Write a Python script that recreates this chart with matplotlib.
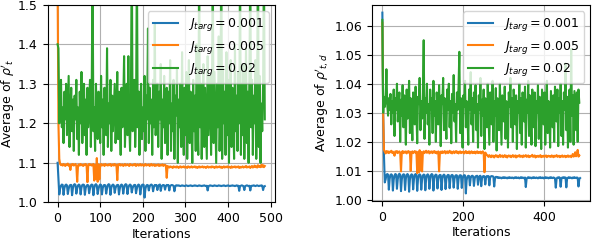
import numpy as np
import matplotlib
matplotlib.use("Agg")
import matplotlib.pyplot as plt

plt.rcParams['font.family'] = ['DejaVu Sans']
plt.rcParams['font.size'] = 9
plt.rcParams['mathtext.fontset'] = 'dejavusans'

STEP = 2  # iterations between stored samples

labels = [r"$J_{targ} = 0.001$", r"$J_{targ} = 0.005$", r"$J_{targ} = 0.02$"]

# ---------------- left panel: average of rho'_t ----------------
blue_left = [
    1.100, 1.060, 1.020,
    1.035, 1.042, 1.045, 1.044, 1.019, 1.036, 1.043, 1.045, 1.043, 1.021,
    1.034, 1.042, 1.044, 1.044, 1.018, 1.036, 1.044, 1.046, 1.044, 1.022,
    1.035, 1.043, 1.045, 1.043, 1.020, 1.037, 1.044, 1.045, 1.044, 1.019,
    1.036, 1.042, 1.044, 1.043, 1.023, 1.035, 1.043, 1.045, 1.044, 1.018,
    1.036, 1.044, 1.046, 1.043, 1.021, 1.034, 1.042, 1.045, 1.044, 1.020,
    1.036, 1.043, 1.044, 1.043, 1.022, 1.035, 1.044, 1.046, 1.044, 1.019,
    1.037, 1.043, 1.045, 1.043, 1.024, 1.036, 1.042, 1.044, 1.044, 1.020,
    1.035, 1.043, 1.045, 1.043, 1.022, 1.036, 1.044, 1.046, 1.044, 1.021,
    1.037, 1.043, 1.045, 1.043, 1.025, 1.036, 1.042, 1.044, 1.044, 1.023,
    1.035, 1.043, 1.045, 1.043, 1.020, 1.036, 1.044, 1.045, 1.044, 1.012,
    1.034, 1.042, 1.044, 1.043, 1.030, 1.040, 1.044, 1.045, 1.043, 1.028,
    1.039, 1.044, 1.043, 1.044, 1.031, 1.041, 1.044, 1.045, 1.029,
    1.040, 1.043, 1.044, 1.043, 1.032, 1.041, 1.044, 1.043, 1.044, 1.030,
    1.041, 1.043, 1.044, 1.043, 1.042, 1.028, 1.040, 1.043, 1.043,
    1.042, 1.043, 1.042, 1.041, 1.042, 1.043, 1.042, 1.042, 1.041, 1.042,
    1.043, 1.042, 1.041, 1.042, 1.042, 1.043, 1.042, 1.041, 1.042, 1.042,
    1.043, 1.042, 1.042, 1.041, 1.042, 1.043, 1.042, 1.042, 1.041, 1.042,
    1.042, 1.043, 1.042, 1.041, 1.042, 1.030, 1.041, 1.042, 1.043, 1.042,
    1.042, 1.041, 1.042, 1.043, 1.042, 1.042, 1.041, 1.042, 1.043, 1.042,
    1.042, 1.041, 1.042, 1.042, 1.043, 1.042, 1.041, 1.042, 1.042, 1.043,
    1.042, 1.041, 1.042, 1.042, 1.043, 1.042, 1.042, 1.041, 1.042, 1.043,
    1.042, 1.042, 1.029, 1.041, 1.042, 1.043, 1.042, 1.041, 1.031, 1.041,
    1.042, 1.043, 1.042, 1.041, 1.042, 1.030, 1.041, 1.042, 1.042, 1.043,
    1.042, 1.041, 1.042, 1.043, 1.042, 1.041, 1.042, 1.042, 1.043, 1.042,
    1.031, 1.040, 1.041,
]

orange_left = [
    1.550, 1.200, 1.110, 1.097, 1.094, 1.096, 1.093, 1.097, 1.095, 1.092,
    1.096, 1.094, 1.098, 1.093, 1.095, 1.082, 1.096, 1.094, 1.097, 1.093,
    1.095, 1.097, 1.092, 1.052, 1.094, 1.096, 1.093, 1.097, 1.094, 1.095,
    1.092, 1.096, 1.094, 1.097, 1.093, 1.051, 1.095, 1.097, 1.094, 1.096,
    1.093, 1.095, 1.097, 1.055, 1.094, 1.060, 1.112, 1.052, 1.096, 1.058,
    1.094, 1.097, 1.093, 1.095, 1.096, 1.092, 1.097, 1.094, 1.095, 1.093,
    1.096, 1.094, 1.097, 1.092, 1.095, 1.096, 1.093, 1.097, 1.094, 1.095,
    1.056, 1.096, 1.094, 1.097, 1.093, 1.095, 1.096, 1.092, 1.094, 1.097,
    1.093, 1.095, 1.096, 1.094, 1.092, 1.097, 1.094, 1.095, 1.093, 1.096,
    1.094, 1.097, 1.092, 1.095, 1.096, 1.093, 1.094, 1.097, 1.093, 1.095,
    1.096, 1.092, 1.094, 1.097, 1.093, 1.095, 1.094, 1.096, 1.092, 1.095,
    1.097, 1.093, 1.094, 1.096, 1.092, 1.095, 1.093, 1.094, 1.096, 1.092,
    1.095, 1.093, 1.094, 1.096, 1.092, 1.094, 1.095, 1.093, 1.062, 1.092,
    1.090, 1.088, 1.091, 1.089, 1.090, 1.087, 1.091, 1.089, 1.090, 1.088,
    1.091, 1.089, 1.087, 1.090, 1.091, 1.088, 1.090, 1.089, 1.091, 1.088,
    1.090, 1.089, 1.087, 1.091, 1.090, 1.088, 1.089, 1.091, 1.088, 1.090,
    1.089, 1.091, 1.088, 1.090, 1.087, 1.089, 1.091, 1.088, 1.090, 1.089,
    1.091, 1.088, 1.090, 1.089, 1.087, 1.090, 1.091, 1.088, 1.089, 1.090,
    1.088, 1.091, 1.089, 1.090, 1.087, 1.089, 1.091, 1.088, 1.090, 1.089,
    1.091, 1.088, 1.090, 1.087, 1.089, 1.091, 1.088, 1.090, 1.089, 1.091,
    1.088, 1.090, 1.089, 1.087, 1.091, 1.088, 1.090, 1.089, 1.091, 1.088,
    1.090, 1.089, 1.091, 1.087, 1.090, 1.088, 1.089, 1.091, 1.088, 1.090,
    1.089, 1.092, 1.088, 1.090, 1.089, 1.091, 1.087, 1.090, 1.092, 1.088,
    1.090, 1.093, 1.089, 1.091, 1.088, 1.094, 1.090, 1.092, 1.089, 1.095,
    1.090, 1.094, 1.089, 1.092,
]

green_left = [
    1.400, 1.390, 1.200, 1.260, 1.310, 1.190, 1.240, 1.150, 1.280, 1.210,
    1.300, 1.170, 1.250, 1.320, 1.140, 1.230, 1.290, 1.180, 1.260, 1.130,
    1.270, 1.210, 1.310, 1.160, 1.240, 1.120, 1.280, 1.200, 1.330, 1.150,
    1.220, 1.300, 1.170, 1.260, 1.120, 1.290, 1.190, 1.250, 1.310, 1.140,
    1.270, 1.600, 1.180, 1.240, 1.130, 1.300, 1.210, 1.160, 1.280, 1.230,
    1.150, 1.320, 1.190, 1.260, 1.120, 1.290, 1.220, 1.170, 1.390, 1.140,
    1.250, 1.200, 1.310, 1.130, 1.270, 1.180, 1.240, 1.300, 1.150, 1.220,
    1.330, 1.160, 1.280, 1.210, 1.120, 1.290, 1.190, 1.250, 1.370, 1.140,
    1.230, 1.300, 1.170, 1.370, 1.200, 1.130, 1.270, 1.650, 1.180, 1.250,
    1.310, 1.140, 1.220, 1.620, 1.190, 1.280, 1.120, 1.260, 1.300, 1.160,
    1.240, 1.180, 1.320, 1.130, 1.270, 1.210, 1.440, 1.150, 1.290, 1.200,
    1.260, 1.120, 1.310, 1.190, 1.450, 1.170, 1.230, 1.300, 1.140, 1.280,
    1.210, 1.350, 1.110, 1.260, 1.190, 1.320, 1.150, 1.240, 1.290, 1.120,
    1.280, 1.200, 1.360, 1.130, 1.250, 1.180, 1.310, 1.110, 1.270, 1.220,
    1.340, 1.100, 1.260, 1.190, 1.300, 1.140, 1.380, 1.210, 1.120, 1.290,
    1.170, 1.330, 1.110, 1.250, 1.360, 1.150, 1.280, 1.200, 1.100, 1.310,
    1.180, 1.270, 1.130, 1.400, 1.220, 1.120, 1.620, 1.190, 1.300, 1.110,
    1.260, 1.350, 1.140, 1.290, 1.200, 1.110, 1.370, 1.170, 1.250, 1.320,
    1.120, 1.280, 1.600, 1.150, 1.330, 1.210, 1.100, 1.300, 1.190, 1.420,
    1.130, 1.260, 1.650, 1.110, 1.340, 1.200, 1.280, 1.120, 1.380, 1.170,
    1.310, 1.100, 1.250, 1.360, 1.140, 1.290, 1.210, 1.110, 1.400, 1.180,
    1.270, 1.130, 1.330, 1.200, 1.620, 1.120, 1.300, 1.170, 1.350, 1.110,
    1.260, 1.390, 1.150, 1.280, 1.100, 1.340, 1.600, 1.190, 1.310, 1.120,
    1.270, 1.200, 1.360, 1.110, 1.290, 1.650, 1.140, 1.320, 1.100, 1.250,
    1.180, 1.300, 1.620, 1.210,
]

# ---------------- right panel: average of rho'_{t,d} ----------------
blue_right = [
    1.0645, 1.0300, 1.0150, 1.0060,
    1.0070, 1.0085, 1.0089, 1.0087, 1.0035, 1.0072, 1.0086, 1.0088, 1.0085, 1.0032,
    1.0069, 1.0084, 1.0089, 1.0087, 1.0038, 1.0071, 1.0086, 1.0090, 1.0086, 1.0030,
    1.0070, 1.0085, 1.0088, 1.0087, 1.0034, 1.0073, 1.0086, 1.0089, 1.0085, 1.0028,
    1.0070, 1.0084, 1.0088, 1.0086, 1.0036, 1.0071, 1.0086, 1.0089, 1.0087, 1.0031,
    1.0072, 1.0085, 1.0088, 1.0085, 1.0035, 1.0069, 1.0084, 1.0087, 1.0086, 1.0033,
    1.0072, 1.0085, 1.0088, 1.0084, 1.0038, 1.0071, 1.0086, 1.0089, 1.0086, 1.0032,
    1.0073, 1.0084, 1.0087, 1.0085, 1.0039, 1.0070, 1.0083, 1.0086, 1.0085, 1.0034,
    1.0072, 1.0084, 1.0087, 1.0084, 1.0037, 1.0071, 1.0083, 1.0086, 1.0085, 1.0040,
    1.0073, 1.0084, 1.0086, 1.0084, 1.0042, 1.0072, 1.0083, 1.0085, 1.0084, 1.0038,
    1.0071, 1.0083, 1.0085, 1.0084, 1.0041, 1.0072, 1.0083, 1.0085, 1.0084, 1.0022,
    1.0068, 1.0080, 1.0083, 1.0082, 1.0050, 1.0075, 1.0082, 1.0083, 1.0081, 1.0048,
    1.0074, 1.0081, 1.0082, 1.0083, 1.0052, 1.0077, 1.0082, 1.0083, 1.0047,
    1.0075, 1.0081, 1.0082, 1.0081, 1.0053, 1.0078, 1.0082, 1.0081, 1.0082, 1.0050,
    1.0077, 1.0081, 1.0082, 1.0081, 1.0080, 1.0046, 1.0074, 1.0079, 1.0079,
    1.0076, 1.0078, 1.0075, 1.0077, 1.0076, 1.0074, 1.0077, 1.0076, 1.0078, 1.0075,
    1.0077, 1.0076, 1.0074, 1.0077, 1.0075, 1.0078, 1.0076, 1.0075, 1.0077, 1.0076,
    1.0074, 1.0077, 1.0076, 1.0078, 1.0075, 1.0076, 1.0077, 1.0074, 1.0076, 1.0078,
    1.0075, 1.0077, 1.0076, 1.0074, 1.0077, 1.0044, 1.0073, 1.0076, 1.0078, 1.0075,
    1.0077, 1.0076, 1.0074, 1.0077, 1.0075, 1.0078, 1.0076, 1.0075, 1.0077, 1.0076,
    1.0074, 1.0077, 1.0076, 1.0078, 1.0075, 1.0076, 1.0077, 1.0074, 1.0076, 1.0078,
    1.0075, 1.0077, 1.0076, 1.0074, 1.0077, 1.0075, 1.0078, 1.0076, 1.0075, 1.0077,
    1.0076, 1.0074, 1.0042, 1.0073, 1.0077, 1.0075, 1.0078, 1.0076, 1.0045, 1.0074,
    1.0077, 1.0076, 1.0078, 1.0075, 1.0077, 1.0043, 1.0074, 1.0076, 1.0078, 1.0075,
    1.0077, 1.0076, 1.0074, 1.0077, 1.0075, 1.0078, 1.0076, 1.0075, 1.0077, 1.0076,
    1.0046, 1.0072, 1.0075,
]

orange_right = [
    1.0610, 1.0300, 1.0172, 1.0165, 1.0160, 1.0168, 1.0163, 1.0167, 1.0161, 1.0166,
    1.0164, 1.0169, 1.0162, 1.0166, 1.0160, 1.0152, 1.0167, 1.0163, 1.0168, 1.0161,
    1.0165, 1.0167, 1.0162, 1.0098, 1.0164, 1.0168, 1.0161, 1.0166, 1.0163, 1.0167,
    1.0160, 1.0165, 1.0168, 1.0162, 1.0166, 1.0100, 1.0163, 1.0167, 1.0161, 1.0165,
    1.0168, 1.0162, 1.0166, 1.0092, 1.0164, 1.0095, 1.0171, 1.0102, 1.0165, 1.0098,
    1.0163, 1.0167, 1.0161, 1.0166, 1.0169, 1.0162, 1.0165, 1.0168, 1.0160, 1.0166,
    1.0163, 1.0167, 1.0161, 1.0165, 1.0168, 1.0162, 1.0166, 1.0160, 1.0164, 1.0167,
    1.0098, 1.0163, 1.0166, 1.0161, 1.0167, 1.0162, 1.0165, 1.0168, 1.0160, 1.0164,
    1.0167, 1.0161, 1.0165, 1.0169, 1.0162, 1.0166, 1.0160, 1.0164, 1.0167, 1.0161,
    1.0165, 1.0168, 1.0162, 1.0166, 1.0160, 1.0164, 1.0167, 1.0161, 1.0165, 1.0163,
    1.0166, 1.0160, 1.0164, 1.0168, 1.0161, 1.0165, 1.0162, 1.0167, 1.0160, 1.0164,
    1.0167, 1.0161, 1.0165, 1.0162, 1.0166, 1.0160, 1.0164, 1.0167, 1.0161, 1.0165,
    1.0162, 1.0166, 1.0160, 1.0164, 1.0167, 1.0161, 1.0095, 1.0163, 1.0158, 1.0155,
    1.0152, 1.0148, 1.0154, 1.0150, 1.0147, 1.0153, 1.0149, 1.0152, 1.0146, 1.0151,
    1.0154, 1.0149, 1.0152, 1.0147, 1.0150, 1.0155, 1.0148, 1.0151, 1.0153, 1.0147,
    1.0150, 1.0154, 1.0148, 1.0152, 1.0146, 1.0151, 1.0153, 1.0149, 1.0152, 1.0147,
    1.0151, 1.0154, 1.0148, 1.0150, 1.0153, 1.0146, 1.0152, 1.0149, 1.0151, 1.0154,
    1.0148, 1.0152, 1.0150, 1.0147, 1.0153, 1.0149, 1.0151, 1.0154, 1.0148, 1.0150,
    1.0153, 1.0147, 1.0151, 1.0149, 1.0152, 1.0155, 1.0148, 1.0150, 1.0153, 1.0146,
    1.0151, 1.0149, 1.0152, 1.0148, 1.0150, 1.0154, 1.0147, 1.0151, 1.0149, 1.0152,
    1.0148, 1.0151, 1.0153, 1.0147, 1.0150, 1.0152, 1.0149, 1.0151, 1.0148, 1.0153,
    1.0150, 1.0147, 1.0152, 1.0149, 1.0151, 1.0154, 1.0148, 1.0150, 1.0152, 1.0147,
    1.0151, 1.0149, 1.0153, 1.0148, 1.0150, 1.0152, 1.0147, 1.0151, 1.0149, 1.0153,
    1.0148, 1.0150, 1.0152, 1.0147, 1.0151, 1.0158, 1.0149, 1.0152, 1.0164, 1.0150,
    1.0155, 1.0172, 1.0149, 1.0153,
]

green_right = [
    1.0620, 1.0300, 1.0355, 1.0320, 1.0345, 1.0450, 1.0330, 1.0290, 1.0350, 1.0310,
    1.0365, 1.0260, 1.0340, 1.0300, 1.0380, 1.0220, 1.0350, 1.0310, 1.0400, 1.0270,
    1.0330, 1.0370, 1.0200, 1.0345, 1.0290, 1.0395, 1.0250, 1.0360, 1.0310, 1.0190,
    1.0380, 1.0280, 1.0340, 1.0410, 1.0230, 1.0350, 1.0300, 1.0205, 1.0370, 1.0320,
    1.0260, 1.0390, 1.0300, 1.0195, 1.0355, 1.0330, 1.0420, 1.0240, 1.0340, 1.0280,
    1.0370, 1.0550, 1.0210, 1.0350, 1.0300, 1.0400, 1.0260, 1.0330, 1.0190, 1.0380,
    1.0310, 1.0350, 1.0230, 1.0410, 1.0290, 1.0340, 1.0200, 1.0370, 1.0320, 1.0260,
    1.0395, 1.0300, 1.0185, 1.0360, 1.0330, 1.0420, 1.0240, 1.0350, 1.0290, 1.0210,
    1.0380, 1.0310, 1.0400, 1.0250, 1.0340, 1.0195, 1.0365, 1.0300, 1.0430, 1.0270,
    1.0330, 1.0200, 1.0370, 1.0310, 1.0390, 1.0510, 1.0230, 1.0350, 1.0290, 1.0180,
    1.0360, 1.0320, 1.0410, 1.0250, 1.0340, 1.0300, 1.0190, 1.0380, 1.0310, 1.0440,
    1.0260, 1.0350, 1.0200, 1.0370, 1.0300, 1.0395, 1.0240, 1.0330, 1.0180, 1.0360,
    1.0310, 1.0420, 1.0220, 1.0345, 1.0290, 1.0380, 1.0175, 1.0350, 1.0320, 1.0250,
    1.0400, 1.0300, 1.0190, 1.0370, 1.0330, 1.0260, 1.0410, 1.0200, 1.0340, 1.0290,
    1.0385, 1.0170, 1.0350, 1.0310, 1.0240, 1.0400, 1.0300, 1.0190, 1.0360, 1.0330,
    1.0270, 1.0390, 1.0210, 1.0340, 1.0300, 1.0180, 1.0370, 1.0320, 1.0420, 1.0250,
    1.0350, 1.0200, 1.0380, 1.0310, 1.0260, 1.0360, 1.0175, 1.0340, 1.0300, 1.0400,
    1.0230, 1.0350, 1.0190, 1.0370, 1.0320, 1.0270, 1.0390, 1.0180, 1.0345, 1.0300,
    1.0410, 1.0220, 1.0360, 1.0310, 1.0190, 1.0380, 1.0330, 1.0250, 1.0370, 1.0185,
    1.0340, 1.0300, 1.0395, 1.0210, 1.0355, 1.0290, 1.0175, 1.0380, 1.0320, 1.0260,
    1.0370, 1.0190, 1.0350, 1.0410, 1.0230, 1.0340, 1.0300, 1.0180, 1.0375, 1.0310,
    1.0250, 1.0360, 1.0200, 1.0390, 1.0320, 1.0270, 1.0380, 1.0185, 1.0350, 1.0300,
    1.0400, 1.0220, 1.0340, 1.0190, 1.0370, 1.0310, 1.0470, 1.0240, 1.0355, 1.0180,
    1.0330, 1.0380, 1.0200, 1.0520, 1.0290, 1.0360, 1.0190, 1.0375, 1.0310, 1.0240,
    1.0370, 1.0200, 1.0380, 1.0335,
]

left_series = [blue_left, orange_left, green_left]
right_series = [blue_right, orange_right, green_right]
colors = ['#1f77b4', '#ff7f0e', '#2ca02c']

fig = plt.figure(figsize=(5.94, 2.4), dpi=100)
axL = fig.add_axes([0.080, 0.157, 0.383, 0.823])
axR = fig.add_axes([0.627, 0.1625, 0.367, 0.8175])

for ax, series in ((axL, left_series), (axR, right_series)):
    for s, c, lab in zip(series, colors, labels):
        x = np.arange(len(s)) * STEP
        ax.plot(x, s, color=c, lw=1.5, label=lab)
    ax.grid(True, color='#b0b0b0', lw=0.8)
    ax.set_axisbelow(True)
    ax.set_xlabel("Iterations", labelpad=2)
    ax.legend(loc='upper right', fontsize=9, handlelength=2.0,
              borderpad=0.4, labelspacing=0.45, framealpha=0.8)

axL.set_xlim(-23.6, 510)
axL.set_ylim(1.0, 1.5)
axL.set_xticks([0, 100, 200, 300, 400, 500])
axL.set_ylabel(r"Average of $\rho'_t$", labelpad=1)

axR.set_xlim(-24.5, 513.5)
axR.set_ylim(0.9996, 1.0672)
axR.set_xticks([0, 200, 400])
axR.set_yticks([1.00, 1.01, 1.02, 1.03, 1.04, 1.05, 1.06])
axR.set_ylabel(r"Average of $\rho'_{t,d}$", labelpad=3)

fig.savefig("out.png", dpi=100)
